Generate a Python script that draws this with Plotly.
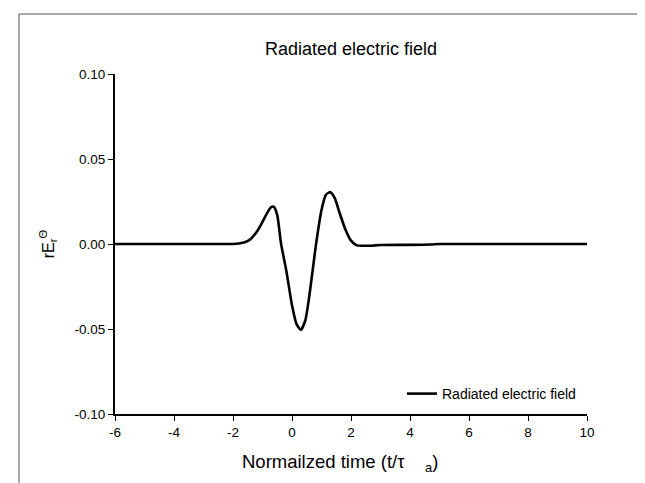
import plotly.graph_objects as go

# Data
t = [-6, -5, -4, -3, -2.5, -2.0, -1.8, -1.6, -1.4, -1.2, -1.0, -0.85, -0.72, -0.62,
     -0.5, -0.37, -0.2, 0.0, 0.15, 0.3, 0.45, 0.6, 0.8, 1.0, 1.15, 1.3, 1.45, 1.6,
     1.8, 2.0, 2.2, 2.4, 2.7, 3.0, 4.0, 4.7, 5.0, 6, 7, 8, 9, 10]
rE = [0, 0, 0, 0, 0, 0, 0.0003, 0.001, 0.003, 0.007, 0.013, 0.018, 0.0215, 0.022,
      0.017, 0.0, -0.015, -0.036, -0.047, -0.0505, -0.045, -0.029, -0.002, 0.02,
      0.029, 0.0305, 0.027, 0.019, 0.009, 0.002, -0.0008, -0.001, -0.001, -0.0006,
      -0.0005, -0.0003, 0, 0, 0, 0, 0, 0]

x_ticks = [-6, -4, -2, 0, 2, 4, 6, 8, 10]
x_ticktext = ["-6", "-4", "-2", "0", "2", "4", "6", "8", "10"]
y_ticks = [-0.10, -0.05, 0.00, 0.05, 0.10]
y_ticktext = ["-0.10", "-0.05", "0.00", "0.05", "0.10"]

font_family = "Liberation Sans, Arial, sans-serif"

fig = go.Figure()
fig.add_trace(go.Scatter(
    x=t, y=rE, mode="lines", name="Radiated electric field",
    line=dict(color="black", width=2.6, shape="spline", smoothing=0.6),
))

L, R, T, B = 107, 579, 66, 406
W, H = 645, 483

def px(xp):
    return (xp - L) / (R - L)

def py(yp):
    return (B - yp) / (B - T)

fig.update_layout(
    width=W, height=H,
    margin=dict(l=L, r=W - R, t=T, b=H - B),
    paper_bgcolor="white", plot_bgcolor="white",
    font=dict(family=font_family, color="black", size=13.5),
    title=dict(text="Radiated electric field", x=(L + R) / 2 / W, xanchor="center",
               y=1 - 41 / H, yanchor="middle", font=dict(size=18, color="black")),
    showlegend=True,
    legend=dict(x=px(394), y=py(386), xanchor="left", yanchor="middle",
                bgcolor="rgba(0,0,0,0)", borderwidth=0, font=dict(size=14)),
    xaxis=dict(range=[-6, 10], tickvals=x_ticks, ticktext=x_ticktext,
               showgrid=False, zeroline=False, showline=True, linecolor="black",
               linewidth=2, ticks="outside", ticklen=5, tickwidth=1, tickcolor="black",
               tickfont=dict(size=13.5)),
    yaxis=dict(range=[-0.10, 0.10], tickvals=y_ticks, ticktext=y_ticktext,
               showgrid=False, zeroline=False, showline=True, linecolor="black",
               linewidth=2, ticks="outside", ticklen=5, tickwidth=1, tickcolor="black",
               tickfont=dict(size=13.5),
               title=dict(text="rE<sub>r</sub><sup>Θ</sup>", font=dict(size=16), standoff=16)),
    annotations=[dict(text="Normailzed time (t/τ&nbsp;&nbsp;&nbsp;&nbsp;<sub>a</sub>)",
                      xref="paper", yref="paper", x=px(232), y=py(455),
                      xanchor="left", yanchor="middle", showarrow=False,
                      font=dict(size=18.5, color="black"))],
    shapes=[dict(type="rect", xref="paper", yref="paper",
                 x0=px(11), x1=px(638), y0=py(495), y1=py(6),
                 line=dict(color="#555555", width=1), layer="below")],
)

fig.write_html("out.html")
